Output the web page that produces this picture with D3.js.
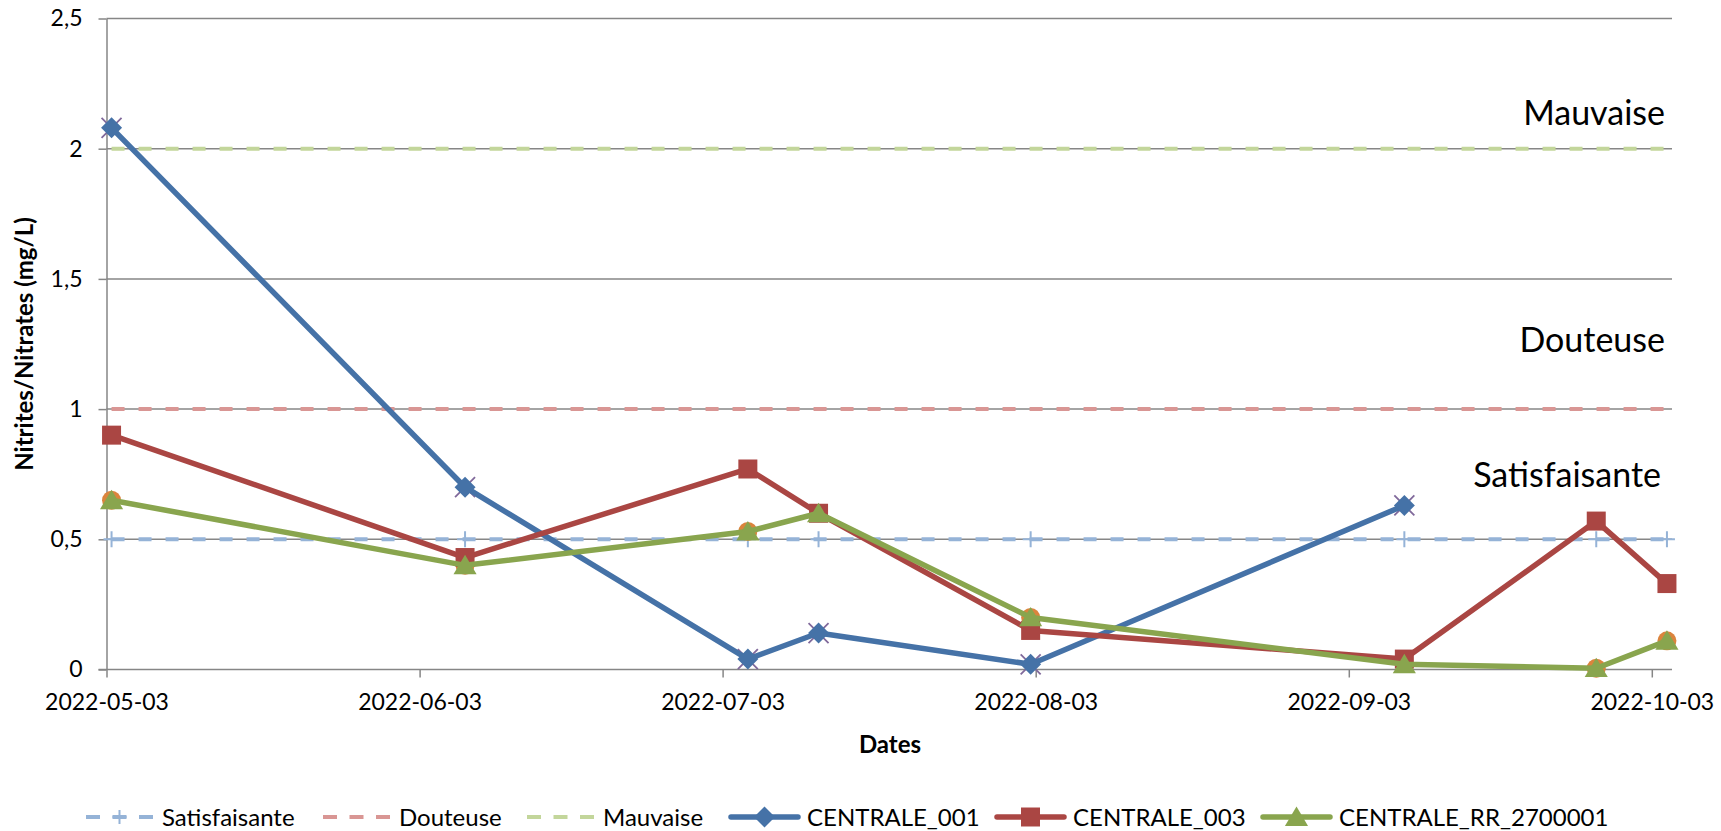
<!DOCTYPE html>
<html>
<head>
<meta charset="utf-8">
<script src="https://cdn.jsdelivr.net/npm/d3@7"></script>
<style>
  html, body { margin: 0; padding: 0; background: #fff; overflow: hidden; }
  svg { display: block; font-family: Lato, "Open Sans", sans-serif; }
</style>
</head>
<body>
<svg id="chart" width="1721" height="831"></svg>
<script>
// Sampling dates and measured concentrations (mg/L)
const dates = ["2022-05-03", "2022-06-07", "2022-07-05", "2022-07-12", "2022-08-02", "2022-09-08", "2022-09-27", "2022-10-04"];
const centrale001 = [2.08, 0.70, 0.04, 0.14, 0.02, 0.63, null, null];
const centrale003 = [0.90, 0.43, 0.77, 0.60, 0.15, 0.04, 0.57, 0.33];
const centraleRR = [0.65, 0.40, 0.53, 0.60, 0.20, 0.02, 0.005, 0.11];

// Secondary marker-only series sitting under the main markers
const overlay001 = [2.08, 0.70, 0.04, 0.14, 0.02, 0.63, null, null];
const overlayRR = [0.65, 0.40, 0.53, null, 0.20, null, 0.005, 0.11];

// Quality thresholds, one value per sampling date
const satisfaisante = [0.5, 0.5, 0.5, 0.5, 0.5, 0.5, 0.5, 0.5];
const douteuse = [1, 1, 1, 1, 1, 1, 1, 1];
const mauvaise = [2, 2, 2, 2, 2, 2, 2, 2];

// Axes
const yTicks = [0, 0.5, 1, 1.5, 2, 2.5];
const yTickLabels = ["0", "0,5", "1", "1,5", "2", "2,5"];
const xTicks = ["2022-05-03", "2022-06-03", "2022-07-03", "2022-08-03", "2022-09-03", "2022-10-03"];
const xStart = "2022-05-03", xEnd = "2022-10-05";

const zoneLabels = ["Mauvaise", "Douteuse", "Satisfaisante"];
const legendLabels = ["Satisfaisante", "Douteuse", "Mauvaise", "CENTRALE_001", "CENTRALE_003", "CENTRALE_RR_2700001"];

const svg = d3.select("#chart");
const plot = { left: 106.5, right: 1672, top: 18.5, bottom: 669.5 };

const day = s => new Date(s + "T00:00:00Z");
const mid = s => new Date(day(s).getTime() + 12 * 3600 * 1000);

const x = d3.scaleUtc().domain([day(xStart), day(xEnd)]).range([plot.left, plot.right]);
const y = d3.scaleLinear().domain([0, 2.5]).range([plot.bottom, plot.top]);

const gridColor = "#868686";

// Horizontal gridlines
svg.append("g").selectAll("line").data(yTicks.slice(1)).join("line")
  .attr("x1", plot.left).attr("x2", plot.right)
  .attr("y1", d => y(d)).attr("y2", d => y(d))
  .attr("stroke", gridColor).attr("stroke-width", 1.5);

// Left axis
const yAxis = svg.append("g").attr("transform", `translate(${plot.left},0)`)
  .call(d3.axisLeft(y).tickValues(yTicks).tickFormat((d, i) => yTickLabels[i])
    .tickSize(8).tickSizeOuter(0).tickPadding(16));
// Bottom axis
const xAxis = svg.append("g").attr("transform", `translate(0,${plot.bottom})`)
  .call(d3.axisBottom(x).tickValues(xTicks.map(day)).tickFormat((d, i) => xTicks[i])
    .tickSize(8).tickSizeOuter(0).tickPadding(16));
[yAxis, xAxis].forEach(a => {
  a.select(".domain").attr("stroke", gridColor).attr("stroke-width", 1.5);
  a.selectAll(".tick line").attr("stroke", gridColor).attr("stroke-width", 1.5);
  a.selectAll(".tick text").attr("fill", "#000").style("font-size", "23px").style("font-family", "Lato, sans-serif");
});
xAxis.select(".domain").attr("d", `M${plot.left - 8},0H${plot.right}`);

// Axis titles
svg.append("text").attr("x", 890).attr("y", 753).attr("text-anchor", "middle")
  .style("font-size", "24px").style("font-weight", "bold").text("Dates");
svg.append("text").attr("transform", "translate(33,344) rotate(-90)").attr("text-anchor", "middle")
  .style("font-size", "24px").style("font-weight", "bold").text("Nitrites/Nitrates (mg/L)");

// Zone labels
const zonePos = [[1665, 125], [1665, 352], [1661, 487]];
svg.append("g").selectAll("text").data(zoneLabels).join("text")
  .attr("x", (d, i) => zonePos[i][0]).attr("y", (d, i) => zonePos[i][1])
  .attr("text-anchor", "end").style("font-size", "34px").attr("fill", "#000").text(d => d);

const pts = vals => dates.map((d, i) => ({ date: mid(d), v: vals[i] })).filter(p => p.v != null);
const line = d3.line().x(p => x(p.date)).y(p => y(p.v));

// Threshold lines
const thresholds = [
  { vals: satisfaisante, color: "#95B3D7" },
  { vals: douteuse, color: "#D99694" },
  { vals: mauvaise, color: "#C3D69B" }
];
const dash = "13 14";
thresholds.forEach(t => {
  svg.append("path").attr("d", line(pts(t.vals))).attr("fill", "none")
    .attr("stroke", t.color).attr("stroke-width", 4).attr("stroke-dasharray", dash);
});
const plusPath = s => `M${-s},0H${s}M0,${-s}V${s}`;
svg.append("g").selectAll("path").data(pts(satisfaisante)).join("path")
  .attr("transform", p => `translate(${x(p.date)},${y(p.v)})`)
  .attr("d", plusPath(8)).attr("stroke", "#95B3D7").attr("stroke-width", 2).attr("fill", "none");

// Secondary markers
svg.append("g").selectAll("path").data(pts(overlay001)).join("path")
  .attr("transform", p => `translate(${x(p.date)},${y(p.v)})`)
  .attr("d", "M-10,-10L10,10M-10,10L10,-10").attr("stroke", "#80699B").attr("stroke-width", 1.8);
svg.append("g").selectAll("circle").data(pts(overlayRR)).join("circle")
  .attr("cx", p => x(p.date)).attr("cy", p => y(p.v)).attr("r", 9.5).attr("fill", "#DB843D");

// Marker shapes
const diamond = s => `M0,${-s}L${s},0L0,${s}L${-s},0Z`;
const square = s => `M${-s},${-s}H${s}V${s}H${-s}Z`;
const triangle = s => `M0,${-s}L${s * 1.1},${s * 0.85}H${-s * 1.1}Z`;

const series = [
  { vals: centrale001, color: "#4572A7", shape: diamond(10.5) },
  { vals: centrale003, color: "#AA4643", shape: square(9.5) },
  { vals: centraleRR, color: "#89A54E", shape: triangle(10.5) }
];
series.forEach(s => {
  svg.append("path").attr("d", line(pts(s.vals))).attr("fill", "none")
    .attr("stroke", s.color).attr("stroke-width", 5.5)
    .attr("stroke-linejoin", "round").attr("stroke-linecap", "round");
  svg.append("g").selectAll("path").data(pts(s.vals)).join("path")
    .attr("transform", p => `translate(${x(p.date)},${y(p.v)})`)
    .attr("d", s.shape).attr("fill", s.color);
});

// Legend
const legendY = 817;
const legendItems = [
  { x: 86, color: "#95B3D7", dashed: true, marker: "plus" },
  { x: 323, color: "#D99694", dashed: true },
  { x: 527, color: "#C3D69B", dashed: true },
  { x: 731, color: "#4572A7", shape: diamond(10.5) },
  { x: 997, color: "#AA4643", shape: square(9.5) },
  { x: 1263, color: "#89A54E", shape: triangle(10.5) }
];
const lg = svg.append("g");
legendItems.forEach((it, i) => {
  const g = lg.append("g").attr("transform", `translate(${it.x},${legendY})`);
  g.append("line").attr("x1", 0).attr("x2", 67).attr("y1", 0).attr("y2", 0)
    .attr("stroke", it.color).attr("stroke-width", it.dashed ? 4 : 5.5)
    .attr("stroke-dasharray", it.dashed ? "14 12.5" : null)
    .attr("stroke-linecap", it.dashed ? "butt" : "round");
  if (it.marker === "plus") {
    g.append("path").attr("transform", "translate(33.5,0)").attr("d", plusPath(7))
      .attr("stroke", it.color).attr("stroke-width", 2);
  }
  if (it.shape) {
    g.append("path").attr("transform", "translate(33.5,0)").attr("d", it.shape).attr("fill", it.color);
  }
  g.append("text").attr("x", 76).attr("y", 0).attr("dy", "0.36em")
    .style("font-size", "24px").attr("fill", "#000").text(legendLabels[i]);
});
</script>
</body>
</html>
